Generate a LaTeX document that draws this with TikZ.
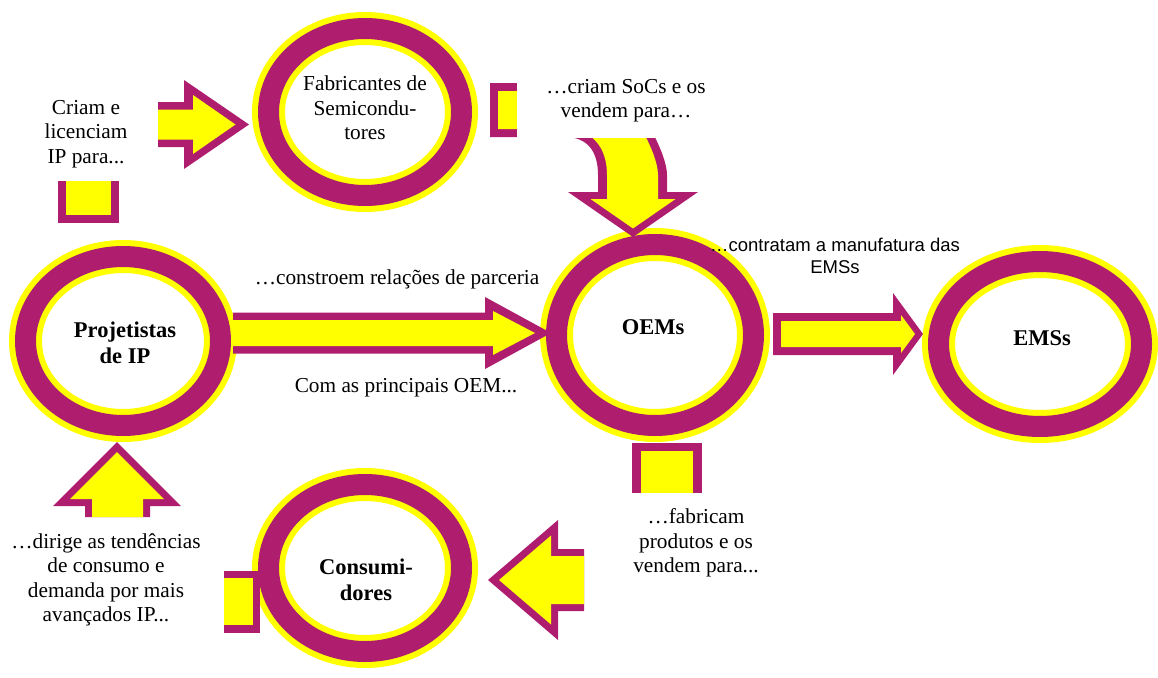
\documentclass[tikz,border=0pt]{standalone}
\usepackage{fontspec}
\setmainfont{Liberation Serif}
\newfontfamily\timesf{Liberation Serif}
\newfontfamily\arialf{Liberation Sans}
\usetikzlibrary{shapes.geometric}
\definecolor{ringpurple}{RGB}{175,29,110}
\definecolor{ringyellow}{RGB}{255,255,0}

\begin{document}
\begin{tikzpicture}[x=1pt,y=-1pt,
  ring/.style={ellipse, inner sep=0pt, outer sep=0pt,
    preaction={fill=white},
    preaction={draw=ringyellow, line width=33pt},
    draw=ringpurple, line width=21pt},
  bodytxt/.style={align=center, inner sep=0pt, font=\timesf\fontsize{21.3}{24.5}\selectfont},
  headtxt/.style={align=center, inner sep=0pt, font=\timesf\fontsize{22.5}{26}\selectfont\bfseries},
  sanstxt/.style={align=center, inner sep=0pt, font=\arialf\fontsize{18.5}{22}\selectfont},
  rim/.style={fill=ringpurple},
  core/.style={fill=ringyellow},
]
\useasboundingbox (0,0) rectangle (1158,677);

% --- the five rings ---
\node[ring, minimum width=193pt, minimum height=167pt] (fab)  at (365,112) {};
\node[ring, minimum width=195pt, minimum height=169pt] (proj) at (123,341) {};
\node[ring, minimum width=197pt, minimum height=181pt] (oem)  at (655,335) {};
\node[ring, minimum width=203pt, minimum height=165pt] (ems)  at (1040,344) {};
\node[ring, minimum width=193pt, minimum height=167pt] (cons) at (365,568) {};

% --- block arrows: purple rim, yellow core ---
% towards the semiconductor makers
\fill[rim]  (158,102) -- (184,102) -- (184,80) -- (249,124.5) -- (184,169) -- (184,147) -- (158,147) -- cycle;
\fill[core] (158,109.5) -- (193,109.5) -- (193,95) -- (235.5,124.5) -- (193,154) -- (193,139.5) -- (158,139.5) -- cycle;

% stub under the licensing text
\fill[rim]  (58,181) rectangle (119,223);
\fill[core] (66,181) rectangle (111,215);

% IP designers to OEMs
\fill[rim]  (233,312.5) -- (485,312.5) -- (485,297) -- (551,333) -- (485,369) -- (485,353.5) -- (233,353.5) -- cycle;
\fill[core] (233,320) -- (493,320) -- (493,311) -- (535,333) -- (493,355) -- (493,346) -- (233,346) -- cycle;

% bent arrow from the semiconductor makers down to the OEMs
\fill[rim]  (490,83) -- (600,83) .. controls (630,83) and (667,150) .. (667,175)
  -- (667,192) -- (698,192) -- (633,237) -- (568,192) -- (598,192) -- (598,175)
  .. controls (598,152) and (588,137) .. (565,137) -- (490,137) -- cycle;
\fill[core] (498,91) -- (600,91) .. controls (624,91) and (658,150) .. (658,175)
  -- (658,199) -- (675.5,199) -- (633,228.5) -- (590.5,199) -- (607,199) -- (607,175)
  .. controls (607,147) and (592,129) .. (565,129) -- (498,129) -- cycle;

% OEMs to EMSs
\fill[rim]  (773,313) -- (893,313) -- (893,293) -- (923,334) -- (893,375) -- (893,355) -- (773,355) -- cycle;
\fill[core] (781,321) -- (901,321) -- (901,315) -- (915,334) -- (901,353) -- (901,347) -- (781,347) -- cycle;

% stub under the OEMs
\fill[rim]  (632,443) rectangle (702,493);
\fill[core] (641,451) rectangle (693,493);

% towards the consumers
\fill[rim]  (584,549) -- (558,549) -- (558,520) -- (488,580) -- (558,640) -- (558,611) -- (584,611) -- cycle;
\fill[core] (584,556) -- (551,556) -- (551,535.5) -- (499,580) -- (551,624.5) -- (551,604) -- (584,604) -- cycle;

% stub beside the consumers
\fill[rim]  (224,571) rectangle (260,633);
\fill[core] (224,578) rectangle (253,625);

% up towards the IP designers
\fill[rim]  (85,517) -- (85,506) -- (53,506) -- (117,442) -- (181,506) -- (150,506) -- (150,517) -- cycle;
\fill[core] (92,517) -- (92,499) -- (70,499) -- (117,452) -- (164,499) -- (143,499) -- (143,517) -- cycle;

% --- labels ---
\node[headtxt] (projtxt) at (125,343) {Projetistas\\de IP};
\node[bodytxt] (fabtxt)  at (365,108) {Fabricantes de\\Semicondu-\\tores};
\node[headtxt] (oemtxt)  at (653,327) {OEMs};
\node[headtxt] (emstxt)  at (1042,338) {EMSs};
\node[headtxt] (constxt) at (366,580) {Consumi-\\dores};

\node[bodytxt] (licen) at (86,134) {Criam e\\licenciam\\IP para...};
\node[bodytxt, fill=white, minimum width=218pt, minimum height=75.5pt] (socs) at (626,100.5) {…criam SoCs e os\\vendem para…};
\node[bodytxt] (parc)  at (397,279) {…constroem relações de parceria};
\node[bodytxt] (princ) at (406,388) {Com as principais OEM...};
\node[sanstxt] (contr) at (835,256) {…contratam a manufatura das\\EMSs};
\node[bodytxt] (fabri) at (696,543) {…fabricam\\produtos e os\\vendem para...};
\node[bodytxt] (dirig) at (106,580) {…dirige as tendências\\de consumo e\\demanda por mais\\avançados IP...};
\end{tikzpicture}
\end{document}
